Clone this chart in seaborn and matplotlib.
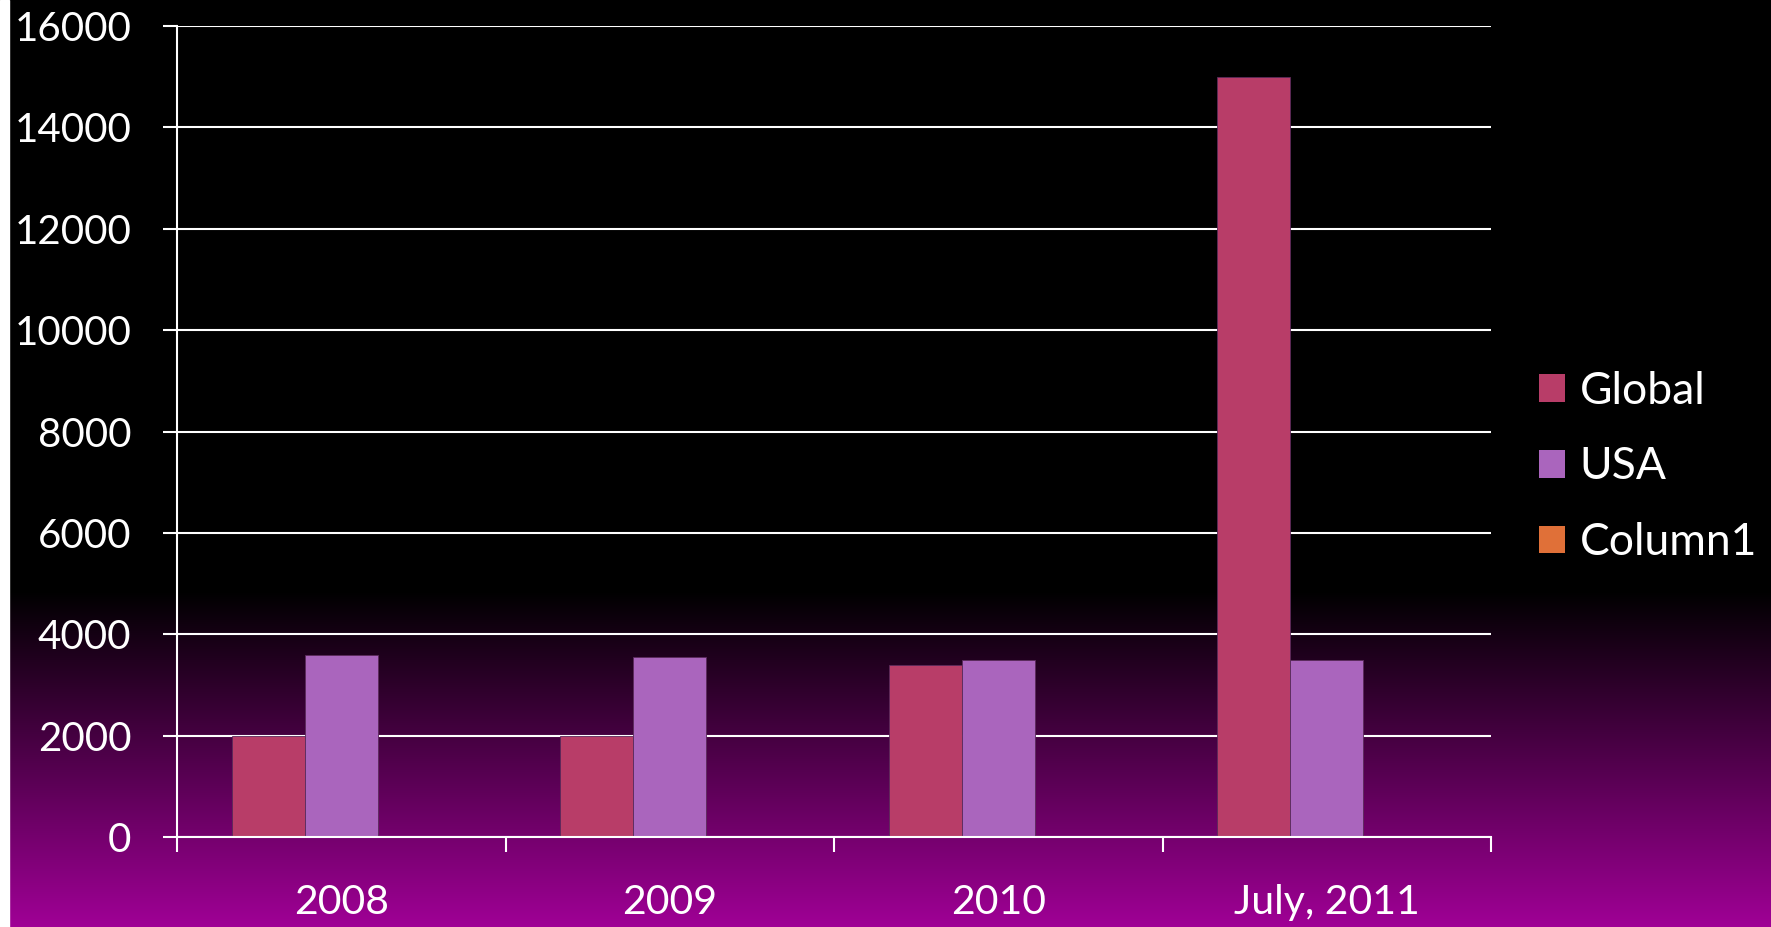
import numpy as np
import matplotlib
matplotlib.use("Agg")
import matplotlib.pyplot as plt
from matplotlib.patches import Patch
import pandas as pd
import seaborn as sns

years = ["2008", "2009", "2010", "July, 2011"]
series = ["Global", "USA", "Column1"]
global_vals = [2000, 2000, 3400, 15000]
usa_vals = [3600, 3550, 3500, 3500]
column1_vals = [0, 0, 0, 0]
colors = ["#B83D68", "#AA65BD", "#E07038"]

df = pd.DataFrame({
    "year": years * 3,
    "series": ["Global"] * 4 + ["USA"] * 4 + ["Column1"] * 4,
    "value": global_vals + usa_vals + column1_vals,
})

sns.set_theme(style="dark")
plt.rcParams["font.family"] = ["Lato", "DejaVu Sans"]

fig = plt.figure(figsize=(17.71, 9.27), dpi=100)

# background: black fading into purple at the bottom, white strip at left
bg = fig.add_axes([0, 0, 1, 1], zorder=-10)
h = 927
grad = np.zeros((h, 1, 3))
start = 590
for i in range(h):
    t = max(0.0, (i - start) / (h - start))
    grad[i, 0] = [160 / 255 * t, 0, 150 / 255 * t]
bg.imshow(grad, aspect="auto", extent=[0, 1, 0, 1])
bg.axvspan(0, 9 / 1771, color="white")
bg.set_xlim(0, 1)
bg.set_ylim(0, 1)
bg.axis("off")

ax = fig.add_axes([177 / 1771, 1 - 837 / 927, (1491 - 177) / 1771, (837 - 26) / 927])
ax.patch.set_alpha(0)

sns.barplot(data=df, x="year", y="value", hue="series", hue_order=series,
            palette=colors, width=0.667, ax=ax, legend=False,
            edgecolor="#5a2a5a", linewidth=0.6, saturation=1, zorder=3)

ax.set_xlim(-0.5, 3.5)
ax.set_ylim(0, 16000)
ax.set_yticks(np.arange(0, 16001, 2000))
ax.grid(axis="y", color="white", linewidth=1.5, zorder=0)
ax.grid(axis="x", visible=False)
ax.set_axisbelow(True)
ax.set_xlabel("")
ax.set_ylabel("")

for side in ["top", "right"]:
    ax.spines[side].set_visible(False)
for side in ["left", "bottom"]:
    ax.spines[side].set_color("white")
    ax.spines[side].set_linewidth(1.5)
    ax.spines[side].set_zorder(5)

ax.tick_params(axis="y", which="major", direction="out", length=10, width=1.5,
               color="white", labelcolor="white", labelsize=29, pad=23, left=True)
ax.set_xticks([-0.5, 0.5, 1.5, 2.5, 3.5], minor=True)
ax.tick_params(axis="x", which="minor", direction="out", length=11, width=1.5,
               color="white", bottom=True)
ax.tick_params(axis="x", which="major", length=0, labelcolor="white",
               labelsize=29.5, pad=34)

handles = [Patch(facecolor=c, edgecolor="none", label=s) for c, s in zip(colors, series)]
fig.legend(handles=handles, loc="upper left", bbox_to_anchor=(1539 / 1771, 0.600),
           frameon=False, fontsize=32, labelcolor="white", handlelength=0.58,
           handleheight=0.58, handletextpad=0.33, labelspacing=0.78,
           borderpad=0, borderaxespad=0)

fig.savefig("out.png", dpi=100)
